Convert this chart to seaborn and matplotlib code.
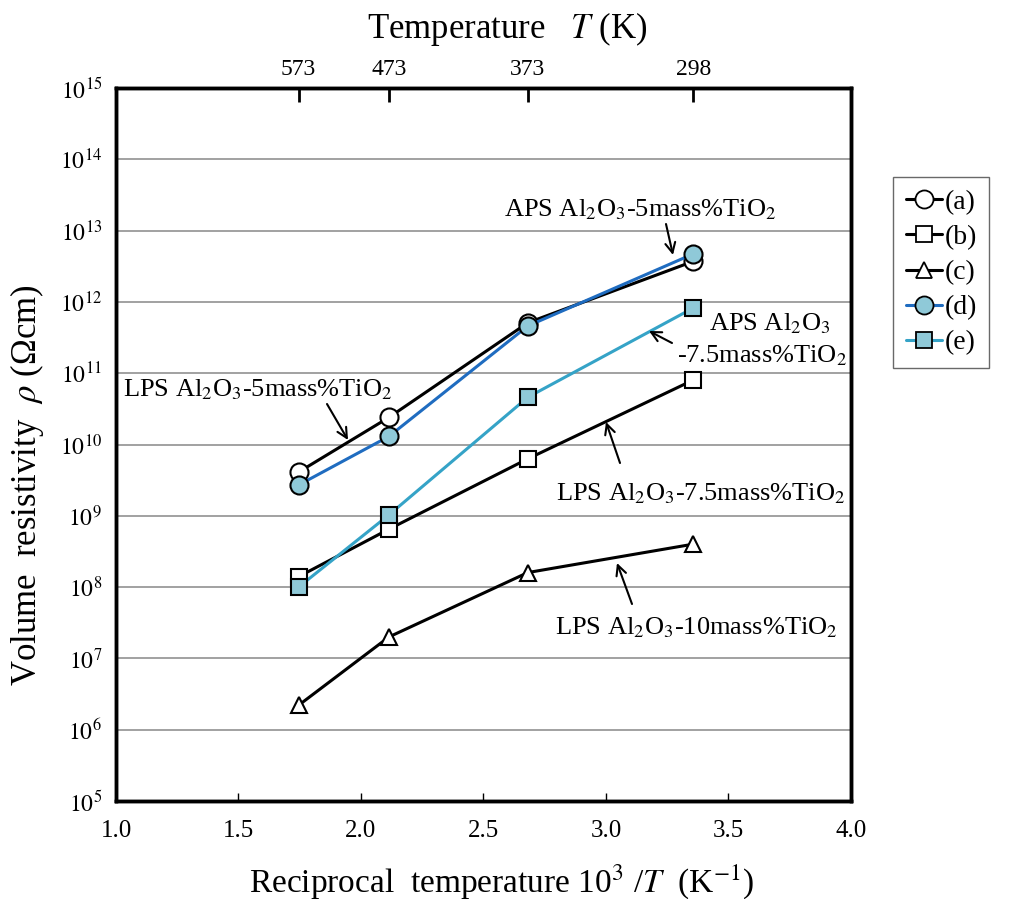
import matplotlib
matplotlib.use("Agg")
import matplotlib.pyplot as plt
import seaborn as sns
import numpy as np
import pandas as pd
from matplotlib.lines import Line2D

sns.set_theme(style="white")
plt.rcParams['font.family'] = ['Liberation Serif', 'DejaVu Serif']
plt.rcParams['mathtext.fontset'] = 'stix'
for k in ['text.color', 'axes.labelcolor', 'xtick.color', 'ytick.color', 'axes.edgecolor']:
    plt.rcParams[k] = 'black'

# ---- data ----
temps_K = [573, 473, 373, 298]
recip_T = [1000.0 / t for t in temps_K]
rho_a = [4.1e9, 2.4e10, 5.1e11, 3.7e12]
rho_b = [1.4e8, 6.5e8, 6.3e9, 8.0e10]
rho_c = [2.2e6, 2.0e7, 1.6e8, 4.0e8]
rho_d = [2.7e9, 1.3e10, 4.6e11, 4.7e12]
rho_e = [1.0e8, 1.03e9, 4.6e10, 8.2e11]
series_labels = ["(a)", "(b)", "(c)", "(d)", "(e)"]
x_ticks = [1.0, 1.5, 2.0, 2.5, 3.0, 3.5, 4.0]
y_exps = list(range(5, 16))

styles = [
    dict(marker='o', color='black', mfc='white', ms=13),
    dict(marker='s', color='black', mfc='white', ms=12),
    dict(marker='^', color='black', mfc='white', ms=12),
    dict(marker='o', color='#1f6cc0', mfc='#8fc9d8', ms=13),
    dict(marker='s', color='#35a3c7', mfc='#8fc9d8', ms=12),
]
all_rho = [rho_a, rho_b, rho_c, rho_d, rho_e]

fig = plt.figure(figsize=(10.18, 8.99), dpi=100)
ax = fig.add_axes([116/1018, 1-801/899, (851-116)/1018, (801-88)/899])

handles = []
for lab, rho, st in zip(series_labels, all_rho, styles):
    df = pd.DataFrame({'x': recip_T, 'y': rho})
    sns.lineplot(data=df, x='x', y='y', ax=ax, color=st['color'], lw=2.2,
                 marker=st['marker'], markersize=st['ms'], markerfacecolor=st['mfc'],
                 markeredgecolor='black', markeredgewidth=1.5, zorder=3, legend=False)
    handles.append(Line2D([], [], color=st['color'], lw=2.2, marker=st['marker'],
                          markersize=st['ms'], markerfacecolor=st['mfc'],
                          markeredgecolor='black', markeredgewidth=1.3, label=lab))

ax.set_yscale('log')
ax.set_xlim(1.0, 4.0)
ax.set_ylim(1e5, 1e15)
ax.set_yticks([10.0**k for k in y_exps])
ax.set_yticklabels([f'$10^{{{k}}}$' for k in y_exps], fontsize=17)
ax.minorticks_off()
ax.set_xticks(x_ticks)
ax.set_xticklabels([f'{v:.1f}' for v in x_ticks], fontsize=18)
ax.tick_params(axis='x', direction='in', length=6, width=1, pad=14, bottom=True)
ax.tick_params(axis='y', direction='in', length=0, pad=10, left=True)
ax.grid(axis='y', color='#888888', lw=1.1)
ax.grid(axis='x', visible=False)
for s in ax.spines.values():
    s.set_linewidth(2.5)
    s.set_color('black')

ax.set_xlabel('Reciprocal  temperature 10$^3$ /$T$  (K$^{-1}$)', fontsize=24)
ax.xaxis.set_label_coords((502 - 116) / 735, -(862 - 801) / 713)
ax.set_ylabel(r'Volume  resistivity  $\rho$ (Ωcm)', fontsize=25)
ax.yaxis.set_label_coords((46 - 116) / 735, (801 - 485) / 713)

# top axis
ax2 = ax.twiny()
ax2.set_xlim(ax.get_xlim())
ax2.set_xticks(recip_T)
ax2.set_xticklabels([str(t) for t in temps_K], fontsize=17)
ax2.tick_params(axis='x', direction='in', length=10, width=2, pad=6)
ax2.set_xlabel('Temperature   $T$ (K)', fontsize=25)
ax2.xaxis.set_label_coords((507 - 116) / 735, 1 + (88 - 38) / 713)
for s in ax2.spines.values():
    s.set_linewidth(2.5)
ax2.grid(False)

def px2data(px, py):
    return 1 + (px - 116) / 245.0, 10 ** (15 - (py - 88) / 71.3)

FS = 19

def ann(text, txy, head, tail, ha='center'):
    ax.text(*px2data(*txy), text, fontsize=FS, ha=ha, va='center', zorder=5)
    ax.annotate('', xy=px2data(*head), xytext=px2data(*tail),
                arrowprops=dict(arrowstyle='->', color='black', lw=1.5,
                                mutation_scale=18, shrinkA=0, shrinkB=0))

ann('APS Al$_2$O$_3$-5mass%TiO$_2$', (640, 210), (673, 255), (666, 224))
ax.text(*px2data(770, 324), 'APS Al$_2$O$_3$', fontsize=FS, ha='center', va='center')
ax.text(*px2data(762, 356), '-7.5mass%TiO$_2$', fontsize=FS, ha='center', va='center')
ax.annotate('', xy=px2data(649, 331), xytext=px2data(672, 343),
            arrowprops=dict(arrowstyle='->', color='black', lw=1.5, mutation_scale=18,
                            shrinkA=0, shrinkB=0))
ann('LPS Al$_2$O$_3$-5mass%TiO$_2$', (258, 390), (348, 440), (327, 404))
ann('LPS Al$_2$O$_3$-7.5mass%TiO$_2$', (701, 494), (606, 422), (620, 463))
ann('LPS Al$_2$O$_3$-10mass%TiO$_2$', (696, 628), (617, 563), (632, 604))

leg = fig.legend(handles=handles, loc='upper left',
                 bbox_to_anchor=(893/1018, 1 - 177/899), fontsize=20,
                 frameon=True, fancybox=False, edgecolor='#444444',
                 handlelength=1.3, handletextpad=0.1, labelspacing=0.35,
                 borderpad=0.45, borderaxespad=0)
leg.get_frame().set_linewidth(1.0)

fig.savefig('out.png', dpi=100)
